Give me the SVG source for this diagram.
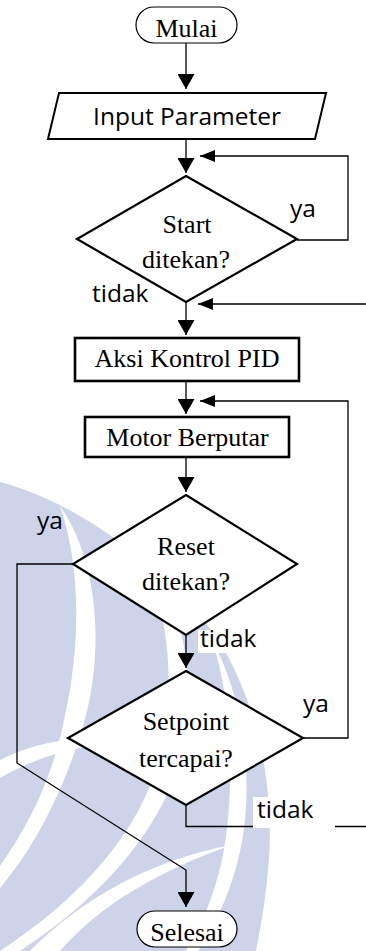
<svg xmlns="http://www.w3.org/2000/svg" width="366" height="951" viewBox="0 0 366 951">
<defs>
<style>
.serif{font-family:"Liberation Serif","Times New Roman",serif;font-size:26px;fill:#000;text-anchor:middle}
.sans{font-family:"Open Sans","Liberation Sans",sans-serif;font-size:24.5px;fill:#000}
.node{fill:#fff;stroke:#000}
.conn{fill:none;stroke:#000;stroke-width:1.3}
.wm{fill:#cdd3e8}
.wmcut{fill:#fff}
</style>
<marker id="av" markerUnits="userSpaceOnUse" markerWidth="15" markerHeight="17" refX="15" refY="8.5" orient="auto"><path d="M0,0 L15,8.5 L0,17 Z" fill="#000"/></marker>
<marker id="ah" markerUnits="userSpaceOnUse" markerWidth="15" markerHeight="12" refX="15" refY="6" orient="auto"><path d="M0,0 L15,6 L0,12 Z" fill="#000"/></marker>
</defs>
<rect width="366" height="951" fill="#fff"/>
<g id="watermark">
<path class="wm" d="M0,482 C70,500 160,560 215,635 C258,700 276,790 268,870 C265,905 260,930 256,951 L0,951 Z"/>
<path class="wmcut" d="M60,506 C98,560 106,650 82,730 C60,800 32,850 0,888 L0,866 C28,826 52,780 64,720 C80,650 82,570 60,506 Z"/>
<path class="wmcut" d="M140,550 C190,610 200,700 175,775 C150,845 90,905 20,951 L0,951 C70,905 130,845 154,775 C178,705 172,615 140,550 Z"/>
<path class="wmcut" d="M212,640 C245,700 256,790 238,860 C228,900 212,930 198,951 L186,951 C202,925 214,895 222,860 C236,790 232,700 212,640 Z"/>
<path class="wmcut" d="M0,760 C40,740 80,735 112,745 C80,745 40,755 0,778 Z"/>
<path class="wmcut" d="M30,951 C80,900 150,860 232,845 C160,870 100,905 60,951 Z"/>
</g>
<g id="connectors">
<path class="conn" d="M186,43 V89" marker-end="url(#av)"/>
<path class="conn" d="M186,139 V173" marker-end="url(#av)"/>
<path class="conn" d="M297,240 H348 V156 H200" marker-end="url(#ah)"/>
<path class="conn" d="M186,302 V335" marker-end="url(#av)"/>
<path class="conn" d="M366,304 H198" marker-end="url(#ah)"/>
<path class="conn" d="M186,381 V414" marker-end="url(#av)"/>
<path class="conn" d="M303,738 H348 V401 H200" marker-end="url(#ah)"/>
<path class="conn" d="M186,457 V492" marker-end="url(#av)"/>
<path class="conn" d="M186,635 V668" marker-end="url(#av)"/>
<path class="conn" d="M73,564 H17 V763 L186,870 V907" marker-end="url(#av)"/>
<path class="conn" d="M186,805 V826.5 H366"/>
</g>
<g id="mulai">
<rect class="node" x="136" y="7" width="101" height="36" rx="18" stroke-width="1.2"/>
<text class="serif" x="186.5" y="37">Mulai</text>
</g>
<g id="input">
<path class="node" d="M59,93 H326 L315,139 H48 Z" stroke-width="2"/>
<text class="sans" x="187" y="125" text-anchor="middle">Input Parameter</text>
</g>
<g id="start">
<path class="node" d="M186,176 L297,239 L186,302 L77,239 Z" stroke-width="2.2"/>
<text class="serif" x="187" y="233">Start</text>
<text class="serif" x="186" y="268">ditekan?</text>
</g>
<g id="label-start-ya"><text class="sans" x="290" y="217">ya</text></g>
<g id="label-start-tidak"><text class="sans" x="92" y="302">tidak</text></g>
<g id="pid">
<rect class="node" x="75" y="338" width="224" height="43" stroke-width="2.6"/>
<text class="serif" x="187" y="367">Aksi Kontrol PID</text>
</g>
<g id="motor">
<rect class="node" x="85" y="417" width="204" height="40" stroke-width="2.6"/>
<text class="serif" x="187.5" y="446">Motor Berputar</text>
</g>
<g id="reset">
<path class="node" d="M186,495 L297,564 L186,635 L73,564 Z" stroke-width="2.2"/>
<text class="serif" x="186" y="555">Reset</text>
<text class="serif" x="186" y="590">ditekan?</text>
</g>
<g id="label-reset-ya"><text class="sans" x="37" y="529">ya</text></g>
<g id="label-reset-tidak">
<rect x="198" y="630" width="64" height="23" fill="#fff"/>
<text class="sans" x="200" y="647">tidak</text>
</g>
<g id="setpoint">
<path class="node" d="M186,671 L303,738 L186,805 L68,738 Z" stroke-width="2.2"/>
<text class="serif" x="186" y="730">Setpoint</text>
<text class="serif" x="186" y="767">tercapai?</text>
</g>
<g id="label-setpoint-ya"><text class="sans" x="303" y="712">ya</text></g>
<g id="label-setpoint-tidak">
<rect x="253" y="797" width="82" height="31" fill="#fff"/>
<text class="sans" x="257" y="818">tidak</text>
</g>
<g id="selesai">
<rect class="node" x="137" y="911" width="100" height="36" rx="18" stroke-width="1.2"/>
<text class="serif" x="187" y="941">Selesai</text>
</g>
</svg>
